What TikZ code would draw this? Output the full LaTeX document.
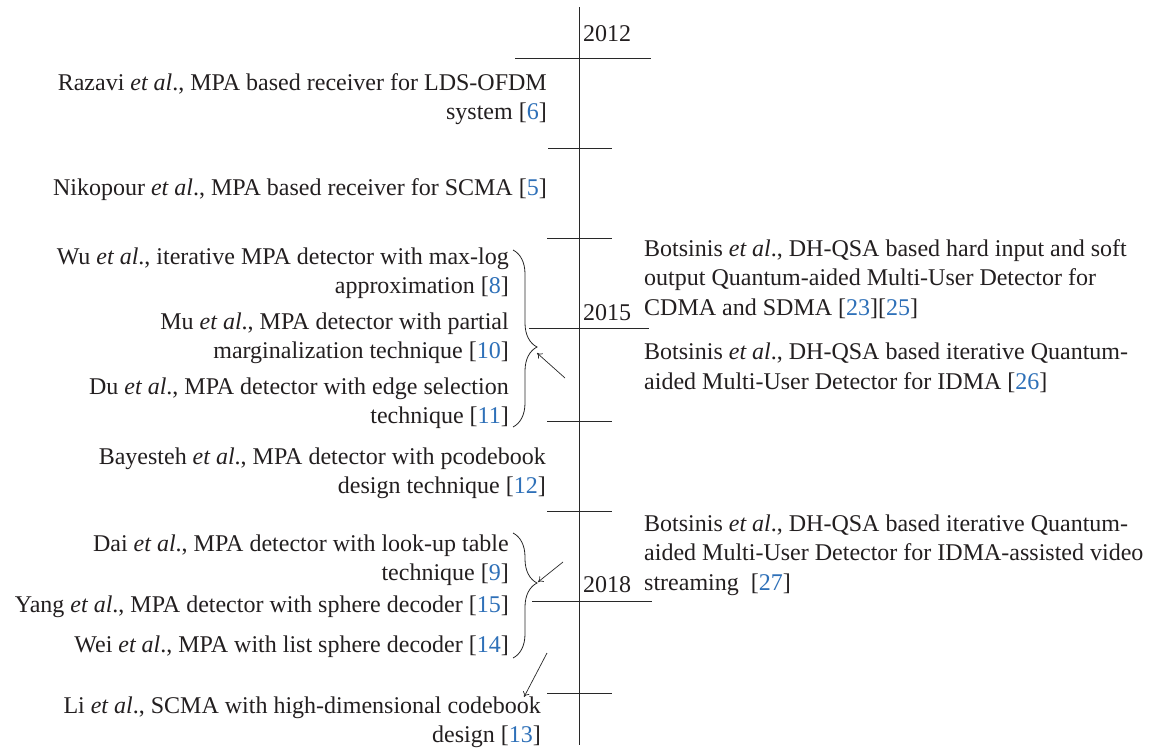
\documentclass[tikz,border=0pt]{standalone}
\usepackage{fontspec}
\setmainfont{Liberation Serif}
\usetikzlibrary{decorations.pathreplacing,arrows.meta}
\definecolor{citeblue}{RGB}{46,112,184}
\definecolor{txt}{RGB}{35,31,32}
\definecolor{linecol}{RGB}{40,40,40}
\newcommand{\ct}[1]{[\textcolor{citeblue}{#1}]}
\newcommand{\etal}{\textit{et al}.}
\begin{document}
\begin{tikzpicture}[x=1pt,y=-1pt,
  lt/.style={anchor=base east, align=right, inner sep=0pt, font=\fontsize{24}{29}\selectfont, text=txt},
  rt/.style={anchor=base west, align=left, inner sep=0pt, font=\fontsize{24}{29.5}\selectfont, text=txt},
  yr/.style={anchor=base west, inner sep=0pt, font=\fontsize{24}{29}\selectfont, text=txt},
  axis/.style={draw=linecol, line width=0.8pt},
  tickline/.style={draw=linecol, line width=0.8pt},
  bracestyle/.style={draw=linecol, line width=0.8pt, decorate, decoration={brace, amplitude=24pt, aspect=#1}},
  arr/.style={draw=linecol, line width=0.7pt, -{To[length=5pt,width=7pt]}}]
\useasboundingbox (0,0) rectangle (1153,750);
\fill[white] (0,0) rectangle (1153,750);

% axis
\coordinate (top) at (579,7);
\coordinate (bot) at (579,745);
\draw[axis] (top) -- (bot);

% ticks
\coordinate (k1a) at (515,58);  \coordinate (k1b) at (651,58);
\coordinate (k2a) at (548,148); \coordinate (k2b) at (612,148);
\coordinate (k3a) at (547,238); \coordinate (k3b) at (612,238);
\coordinate (k4a) at (529,328); \coordinate (k4b) at (649,328);
\coordinate (k5a) at (547,421); \coordinate (k5b) at (612,421);
\coordinate (k6a) at (547,511); \coordinate (k6b) at (612,511);
\coordinate (k7a) at (532,601); \coordinate (k7b) at (652,601);
\coordinate (k8a) at (547,693); \coordinate (k8b) at (612,693);
\foreach \i in {1,...,8} {\draw[tickline] (k\i a) -- (k\i b);}

% years
\node[yr] (y2012) at (583,41) {2012};
\node[yr] (y2015) at (583,320) {2015};
\node[yr] (y2018) at (583,592) {2018};

% left texts (anchor = baseline of last line)
\node[lt] (razavi) at (547,119) {Razavi \etal, MPA based receiver for LDS-OFDM\\system \ct{6}};
\node[lt] (nikopour) at (547,195) {Nikopour \etal, MPA based receiver for SCMA \ct{5}};
\node[lt] (wu) at (509,293) {Wu \etal, iterative MPA detector with max-log\\approximation \ct{8}};
\node[lt] (mu) at (509,358) {Mu \etal, MPA detector with partial\\marginalization technique \ct{10}};
\node[lt] (du) at (509,423) {Du \etal, MPA detector with edge selection\\technique \ct{11}};
\node[lt] (bayesteh) at (546,493) {Bayesteh \etal, MPA detector with pcodebook\\design technique \ct{12}};
\node[lt] (dai) at (509,580) {Dai \etal, MPA detector with look-up table\\technique \ct{9}};
\node[lt] (yang) at (509,612) {Yang \etal, MPA detector with sphere decoder \ct{15}};
\node[lt] (wei) at (509,652) {Wei \etal, MPA with list sphere decoder \ct{14}};
\node[lt] (li) at (541,742) {Li \etal, SCMA with high-dimensional codebook\\design \ct{13}};

% right texts
\node[rt] (bot1) at (644,315) {Botsinis \etal, DH-QSA based hard input and soft\\output Quantum-aided Multi-User Detector for\\CDMA and SDMA \ct{23}\ct{25}};
\node[rt] (bot2) at (644,389) {Botsinis \etal, DH-QSA based iterative Quantum-\\aided Multi-User Detector for IDMA \ct{26}};
\node[rt] (bot3) at (644,590) {Botsinis \etal, DH-QSA based iterative Quantum-\\aided Multi-User Detector for IDMA-assisted video\\streaming~~\ct{27}};

% braces
\coordinate (b1s) at (513,250); \coordinate (b1e) at (513,427);
\draw[bracestyle=0.548] (b1s) -- (b1e);
\coordinate (b2s) at (513,533); \coordinate (b2e) at (513,658);
\draw[bracestyle=0.4] (b2s) -- (b2e);

% arrows
\coordinate (a1s) at (565,378); \coordinate (a1e) at (537,353);
\draw[arr] (a1s) -- (a1e);
\coordinate (a2s) at (563,562); \coordinate (a2e) at (538,582);
\draw[arr] (a2s) -- (a2e);
\coordinate (a3s) at (547,653); \coordinate (a3e) at (524,697);
\draw[arr] (a3s) -- (a3e);
\end{tikzpicture}
\end{document}
